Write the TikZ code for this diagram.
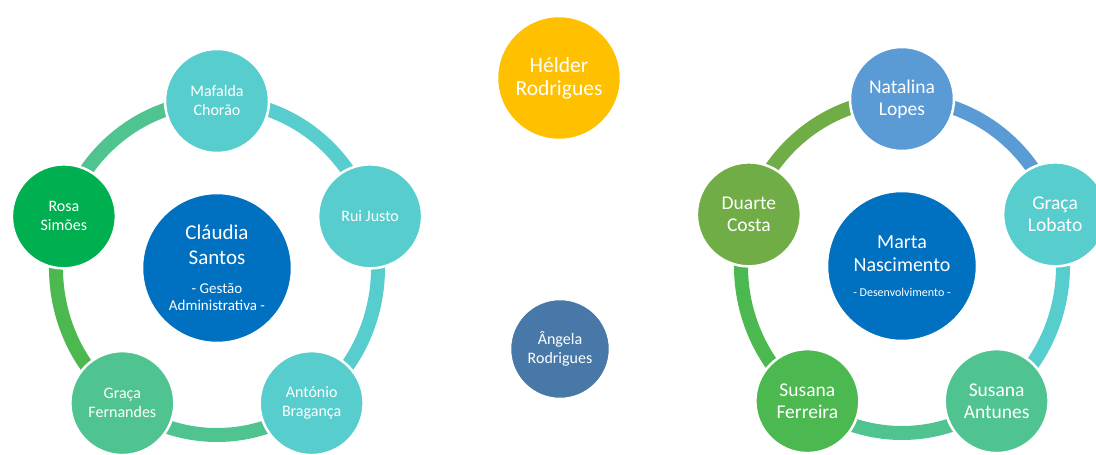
\documentclass[tikz,border=0pt]{standalone}
\usepackage{fontspec}
\setmainfont{Carlito}
\usetikzlibrary{backgrounds}

\definecolor{hubblue}{HTML}{0070C0}
\definecolor{turq}{HTML}{57CDCD}
\definecolor{mintgreen}{HTML}{50C490}
\definecolor{leafgreen}{HTML}{4BB94F}
\definecolor{rosagreen}{HTML}{00B050}
\definecolor{olivegreen}{HTML}{70AD47}
\definecolor{skyblue}{HTML}{5B9BD5}
\definecolor{amber}{HTML}{FFC000}
\definecolor{steelblue}{HTML}{4878A8}

\begin{document}
\begin{tikzpicture}[x=1pt, y=1pt,
    member/.style={circle, draw=white, line width=2.5pt, minimum size=104pt, inner sep=0pt, align=center, text=white},
    hub/.style={member, minimum size=150pt},
    ring/.style={line width=14pt},
    smallname/.style={font=\fontsize{16}{19}\selectfont},
    bigname/.style={font=\fontsize{19.5}{22}\selectfont}]
    \useasboundingbox (0,0) rectangle (1096,455);
    \clip (0,0) rectangle (1096,455);

    % Administrative team
    \begin{scope}[shift={(217,187)}]
    \node[hub, fill=hubblue, font=\fontsize{21}{25}\selectfont] (claudia) at (0,0) {Cláudia\\Santos\\[4pt]{\fontsize{15}{17}\selectfont - Gestão}\\[-8pt]{\fontsize{15}{17}\selectfont Administrativa -}};
    \node[member, smallname, fill=turq] (mafalda) at (90:161 and 167) {Mafalda\\Chorão};
    \node[member, smallname, fill=turq] (rui) at (18:161 and 167) {Rui Justo};
    \node[member, smallname, fill=turq] (antonio) at (-54:161 and 167) {António\\Bragança};
    \node[member, smallname, fill=mintgreen] (gracaf) at (-126:161 and 167) {Graça\\Fernandes};
    \node[member, smallname, fill=rosagreen] (rosa) at (162:161 and 167) {Rosa\\Simões};
    \begin{scope}[on background layer]
    \draw[ring, turq] (mafalda.center) arc[start angle=90, end angle=18, x radius=161pt, y radius=167pt];
    \draw[ring, turq] (rui.center) arc[start angle=18, end angle=-54, x radius=161pt, y radius=167pt];
    \draw[ring, mintgreen] (antonio.center) arc[start angle=-54, end angle=-126, x radius=161pt, y radius=167pt];
    \draw[ring, leafgreen] (gracaf.center) arc[start angle=-126, end angle=-198, x radius=161pt, y radius=167pt];
    \draw[ring, mintgreen] (rosa.center) arc[start angle=162, end angle=90, x radius=161pt, y radius=167pt];
    \end{scope}
    \end{scope}

    % Unattached members
    \node[member, fill=amber, minimum size=124pt, font=\fontsize{21.5}{23}\selectfont] (helder) at (559,377) {Hélder\\Rodrigues};
    \node[member, fill=steelblue, minimum size=100pt, smallname] (angela) at (560,106) {Ângela\\Rodrigues};

    % Development team
    \begin{scope}[shift={(902,189)}]
    \node[hub, fill=hubblue, font=\fontsize{20}{23}\selectfont] (marta) at (0,0) {Marta\\Nascimento\\[2pt]{\fontsize{12}{13}\selectfont - Desenvolvimento -}};
    \node[member, bigname, fill=skyblue] (natalina) at (90:161 and 167) {Natalina\\Lopes};
    \node[member, bigname, fill=turq] (gracal) at (18:161 and 167) {Graça\\Lobato};
    \node[member, bigname, fill=mintgreen] (susanaa) at (-54:161 and 167) {Susana\\Antunes};
    \node[member, bigname, fill=leafgreen] (susanaf) at (-126:161 and 167) {Susana\\Ferreira};
    \node[member, bigname, fill=olivegreen] (duarte) at (162:161 and 167) {Duarte\\Costa};
    \begin{scope}[on background layer]
    \draw[ring, skyblue] (natalina.center) arc[start angle=90, end angle=18, x radius=161pt, y radius=167pt];
    \draw[ring, turq] (gracal.center) arc[start angle=18, end angle=-54, x radius=161pt, y radius=167pt];
    \draw[ring, mintgreen] (susanaa.center) arc[start angle=-54, end angle=-126, x radius=161pt, y radius=167pt];
    \draw[ring, leafgreen] (susanaf.center) arc[start angle=-126, end angle=-198, x radius=161pt, y radius=167pt];
    \draw[ring, olivegreen] (duarte.center) arc[start angle=162, end angle=90, x radius=161pt, y radius=167pt];
    \end{scope}
    \end{scope}
\end{tikzpicture}
\end{document}
